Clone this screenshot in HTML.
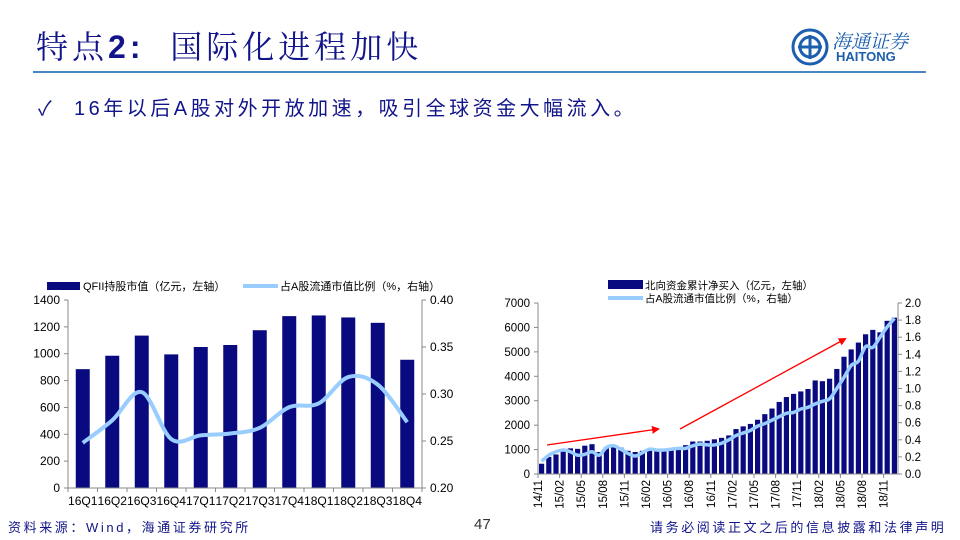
<!DOCTYPE html>
<html><head><meta charset="utf-8">
<style>
body{margin:0;width:960px;height:540px;background:#fff;overflow:hidden;position:relative;font-family:"Liberation Sans","Noto Sans CJK SC",sans-serif}
.abs{position:absolute;white-space:nowrap}
</style></head>
<body>
<div class="abs" style="left:36px;top:22px;font-size:32px;color:#12158a;letter-spacing:4px;"><span style="font-family:'Noto Serif CJK SC',serif">特点</span><b style="font-family:'Liberation Sans'">2:</b>&nbsp;&nbsp;<span style="font-family:'Noto Serif CJK SC',serif">国际化进程加快</span></div>
<div class="abs" style="left:33px;top:71px;width:893px;height:2px;background:#4a86c0"></div>
<div class="abs" style="left:790px;top:27px;width:140px;height:40px">
<svg width="40" height="40"><circle cx="20" cy="20" r="17" fill="none" stroke="#1b5fae" stroke-width="3"/><circle cx="20" cy="20" r="10" fill="none" stroke="#1b5fae" stroke-width="3"/><path d="M20 8V32M8 20H32" stroke="#1b5fae" stroke-width="3"/></svg>
<div class="abs" style="left:42px;top:0;font-size:19px;color:#1b5fae;font-family:'Noto Serif CJK SC',serif;font-style:italic">海通证券</div>
<div class="abs" style="left:46px;top:22px;font-size:13px;font-weight:bold;color:#1b5fae">HAITONG</div>
</div>
<div class="abs" style="left:38px;top:92px;font-size:20px;color:#12158a">✓</div>
<div class="abs" style="left:74px;top:92px;font-size:20px;color:#12158a;letter-spacing:3.5px">16年以后A股对外开放加速，吸引全球资金大幅流入。</div>
<div class="abs" style="left:8px;top:517px;font-size:13px;color:#12158a;letter-spacing:2.6px">资料来源：Wind，海通证券研究所</div>
<div class="abs" style="left:474px;top:516px;font-size:15px;color:#333">47</div>
<div class="abs" style="left:650px;top:517px;font-size:13px;color:#12158a;letter-spacing:2.6px">请务必阅读正文之后的信息披露和法律声明</div>

<svg id="c1" class="abs" style="left:0;top:0" width="960" height="540"></svg>
<script>
const q_categories=["16Q1","16Q2","16Q3","16Q4","17Q1","17Q2","17Q3","17Q4","18Q1","18Q2","18Q3","18Q4"];
const q_qfii=[885,985,1135,995,1050,1065,1175,1280,1285,1270,1230,955];
const q_ratio=[0.248,0.272,0.302,0.252,0.256,0.258,0.264,0.286,0.29,0.318,0.31,0.27];
const q_leftTicks=[0,200,400,600,800,1000,1200,1400];
const q_rightTicks=["0.20","0.25","0.30","0.35","0.40"];
const m_categories=["14/11","14/12","15/01","15/02","15/03","15/04","15/05","15/06","15/07","15/08","15/09","15/10","15/11","15/12","16/01","16/02","16/03","16/04","16/05","16/06","16/07","16/08","16/09","16/10","16/11","16/12","17/01","17/02","17/03","17/04","17/05","17/06","17/07","17/08","17/09","17/10","17/11","17/12","18/01","18/02","18/03","18/04","18/05","18/06","18/07","18/08","18/09","18/10","18/11","18/12"];
const m_north=[420,700,800,950,1050,1030,1160,1220,900,1100,1130,1080,950,900,950,980,980,1000,1020,1050,1180,1330,1330,1360,1420,1480,1580,1840,1950,2050,2220,2450,2680,2950,3150,3280,3380,3480,3830,3800,3900,4300,4800,5100,5380,5720,5900,5800,6270,6400];
const m_ratio=[0.15,0.22,0.26,0.28,0.26,0.22,0.23,0.26,0.22,0.31,0.33,0.29,0.24,0.21,0.25,0.29,0.28,0.28,0.29,0.30,0.30,0.33,0.35,0.34,0.34,0.36,0.40,0.45,0.48,0.51,0.56,0.59,0.63,0.67,0.71,0.72,0.76,0.78,0.82,0.85,0.88,1.00,1.13,1.27,1.32,1.49,1.48,1.60,1.72,1.82];
const m_leftTicks=[0,1000,2000,3000,4000,5000,6000,7000];
const m_rightTicks=["0.0","0.2","0.4","0.6","0.8","1.0","1.2","1.4","1.6","1.8","2.0"];

const svg=document.getElementById('c1');const NS="http://www.w3.org/2000/svg";
function mk(t,a,p){const e=document.createElementNS(NS,t);for(const k in a)e.setAttribute(k,a[k]);(p||svg).appendChild(e);return e;}
function txt(x,y,s,o){const e=mk('text',Object.assign({x:x,y:y,'font-size':12,fill:'#000','font-family':'Liberation Sans, Noto Sans CJK SC, sans-serif'},o||{}));e.textContent=s;return e;}
function smooth(pts){let d="M"+pts[0][0]+","+pts[0][1];for(let i=0;i<pts.length-1;i++){const p0=pts[i-1]||pts[i],p1=pts[i],p2=pts[i+1],p3=pts[i+2]||p2;d+=` C${p1[0]+(p2[0]-p0[0])/6},${p1[1]+(p2[1]-p0[1])/6} ${p2[0]-(p3[0]-p1[0])/6},${p2[1]-(p3[1]-p1[1])/6} ${p2[0]},${p2[1]}`;}return d;}

// chart 1
(function(){
const L=68,R=422,T=300,B=488;
const n=q_categories.length,w=(R-L)/n;
const x=i=>L+w*(i+0.5), y=v=>B-(v/1400)*(B-T), y2=v=>B-((v-0.2)/0.2)*(B-T);
const g=mk('g',{});
q_qfii.forEach((v,i)=>{const r=mk('rect',{x:x(i)-7,y:y(v),width:14,height:B-y(v),fill:'#0a0a80'},g);});
const pl=mk('path',{d:smooth(q_ratio.map((v,i)=>[x(i),y2(v)])),fill:'none',stroke:'#99ccff','stroke-width':4},g);

mk('path',{d:`M${L},${T}V${B}H${R}V${T}`,fill:'none',stroke:'#888'},g);
q_leftTicks.forEach(v=>{mk('line',{x1:L-4,x2:L,y1:y(v),y2:y(v),stroke:'#888'},g);txt(L-8,y(v)+4,v,{'text-anchor':'end'});});
q_rightTicks.forEach(v=>{mk('line',{x1:R,x2:R+4,y1:y2(+v),y2:y2(+v),stroke:'#888'},g);txt(R+8,y2(+v)+4,v);});
for(let i=0;i<=n;i++)mk('line',{x1:L+w*i,x2:L+w*i,y1:B,y2:B+4,stroke:'#888'},g);
q_categories.forEach((c,i)=>txt(x(i),B+17,c,{'text-anchor':'middle',textLength:w,lengthAdjust:'spacingAndGlyphs'}));
mk('rect',{x:47,y:282,width:33,height:8,fill:'#0a0a80'},g);
txt(83,290,'QFII持股市值（亿元，左轴）',{'font-size':11});
mk('line',{x1:243,x2:278,y1:286,y2:286,stroke:'#99ccff','stroke-width':4},g);
txt(280,290,'占A股流通市值比例（%，右轴）',{'font-size':11});
})();

// chart 2
(function(){
const L=538,R=898,T=303,B=474;
const n=m_categories.length,w=(R-L)/n;
const x=i=>L+w*(i+0.5), y=v=>B-(v/7000)*(B-T), y2=v=>B-(v/2)*(B-T);
const g=mk('g',{});
m_north.forEach((v,i)=>{const r=mk('rect',{x:x(i)-2.6,y:y(v),width:5.2,height:B-y(v),fill:'#0a0a80'},g);});
const pl=mk('path',{d:smooth(m_ratio.map((v,i)=>[x(i),y2(v)])),fill:'none',stroke:'#99ccff','stroke-width':3.5},g);

mk('path',{d:`M${L},${T}V${B}H${R}V${T}`,fill:'none',stroke:'#888'},g);
m_leftTicks.forEach(v=>{mk('line',{x1:L-4,x2:L,y1:y(v),y2:y(v),stroke:'#888'},g);txt(L-8,y(v)+4,v,{'text-anchor':'end','font-size':11.5});});
m_rightTicks.forEach(v=>{mk('line',{x1:R,x2:R+4,y1:y2(+v),y2:y2(+v),stroke:'#888'},g);txt(R+7,y2(+v)+4,v,{'font-size':11.5});});
m_categories.forEach((c,i)=>{if(i%3)return;const xx=L+w*i;mk('line',{x1:xx,x2:xx,y1:B,y2:B+4,stroke:'#888'},g);
 txt(0,0,c,{'text-anchor':'end','font-size':11.5,transform:`translate(${xx+4},${B+6}) rotate(-90)`});});
mk('rect',{x:608,y:280,width:35,height:9,fill:'#0a0a80'},g);
txt(645,289,'北向资金累计净买入（亿元，左轴）',{'font-size':10.5});
mk('line',{x1:608,x2:643,y1:298,y2:298,stroke:'#99ccff','stroke-width':4},g);
txt(645,302,'占A股流通市值比例（%，右轴）',{'font-size':10.5});
mk('defs',{},g).innerHTML='<marker id="ah" markerWidth="8" markerHeight="8" refX="6" refY="4" orient="auto" markerUnits="userSpaceOnUse"><path d="M0,0L8,4L0,8z" fill="#ff0000"/></marker>';
const a1=mk('line',{x1:547,y1:445,x2:658,y2:429,stroke:'#ff0000','stroke-width':1.3,'marker-end':'url(#ah)'},g);

const a2=mk('line',{x1:680,y1:429,x2:845,y2:339,stroke:'#ff0000','stroke-width':1.3,'marker-end':'url(#ah)'},g);

})();
</script>
</body></html>
